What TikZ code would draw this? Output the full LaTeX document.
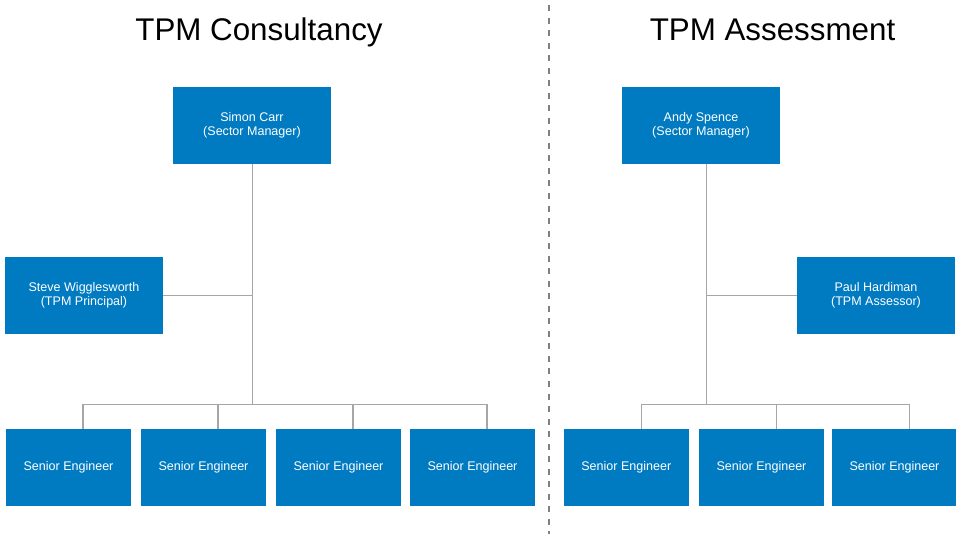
\documentclass[tikz,border=0pt]{standalone}
\usepackage{fontspec}
\setmainfont{Liberation Sans}
\usetikzlibrary{calc}
\definecolor{boxblue}{RGB}{0,123,193}
\definecolor{linegray}{RGB}{166,166,166}
\definecolor{dashgray}{RGB}{128,128,128}
\tikzset{
  staff/.style={fill=boxblue, text=white, inner sep=0pt, minimum height=57.75pt,
    align=center, font=\fontsize{9.4}{10.8}\selectfont},
  lead/.style={staff, minimum width=118.5pt},
  engineer/.style={staff, minimum width=93.75pt},
  link/.style={draw=linegray, line width=0.8pt},
  heading/.style={font=\fontsize{23.5}{28}\selectfont, anchor=base}
}

\begin{document}
\begin{tikzpicture}[x=0.75pt, y=-0.75pt]
  \useasboundingbox (0,0) rectangle (956,534);
  % divider
  \draw[dashgray, line width=1.7pt, dash pattern=on 4.5pt off 4.9pt] (549,5) -- (549,534);
  % titles
  \node[heading] (tc) at (259,41) {TPM Consultancy};
  \node[heading] (ta) at (772.5,41) {TPM Assessment};

  % consultancy
  \node[lead] (simon) at (252,125.5) {Simon Carr\\(Sector Manager)};
  \node[lead] (steve) at (84,295.5) {Steve Wigglesworth\\(TPM Principal)};
  \foreach \i/\x in {1/68.5, 2/203.5, 3/338.5, 4/472.5}
    \node[engineer] (ce\i) at (\x,467.5) {Senior Engineer};
  \coordinate (cbus) at ($(simon.south)+(0.7,0)$);
  \draw[link] (cbus) -- (cbus |- 0,404.3);
  \draw[link] (steve.east) -- (steve.east -| cbus);
  \foreach \i in {1,...,4}
    \draw[link] ($(ce\i.north)+(14.5,0)$) |- (cbus |- 0,404.3);

  % assessment
  \node[lead] (andy) at (701,125.5) {Andy Spence\\(Sector Manager)};
  \node[lead] (paul) at (876,295.5) {Paul Hardiman\\(TPM Assessor)};
  \foreach \i/\x in {1/626.3, 2/761.5, 3/894.5}
    \node[engineer] (ae\i) at (\x,467.5) {Senior Engineer};
  \coordinate (abus) at ($(andy.south)+(5.7,0)$);
  \draw[link] (abus) -- (abus |- 0,404.3);
  \draw[link] (paul.west) -- (paul.west -| abus);
  \foreach \i in {1,...,3}
    \draw[link] ($(ae\i.north)+(15,0)$) |- (abus |- 0,404.3);
\end{tikzpicture}
\end{document}
